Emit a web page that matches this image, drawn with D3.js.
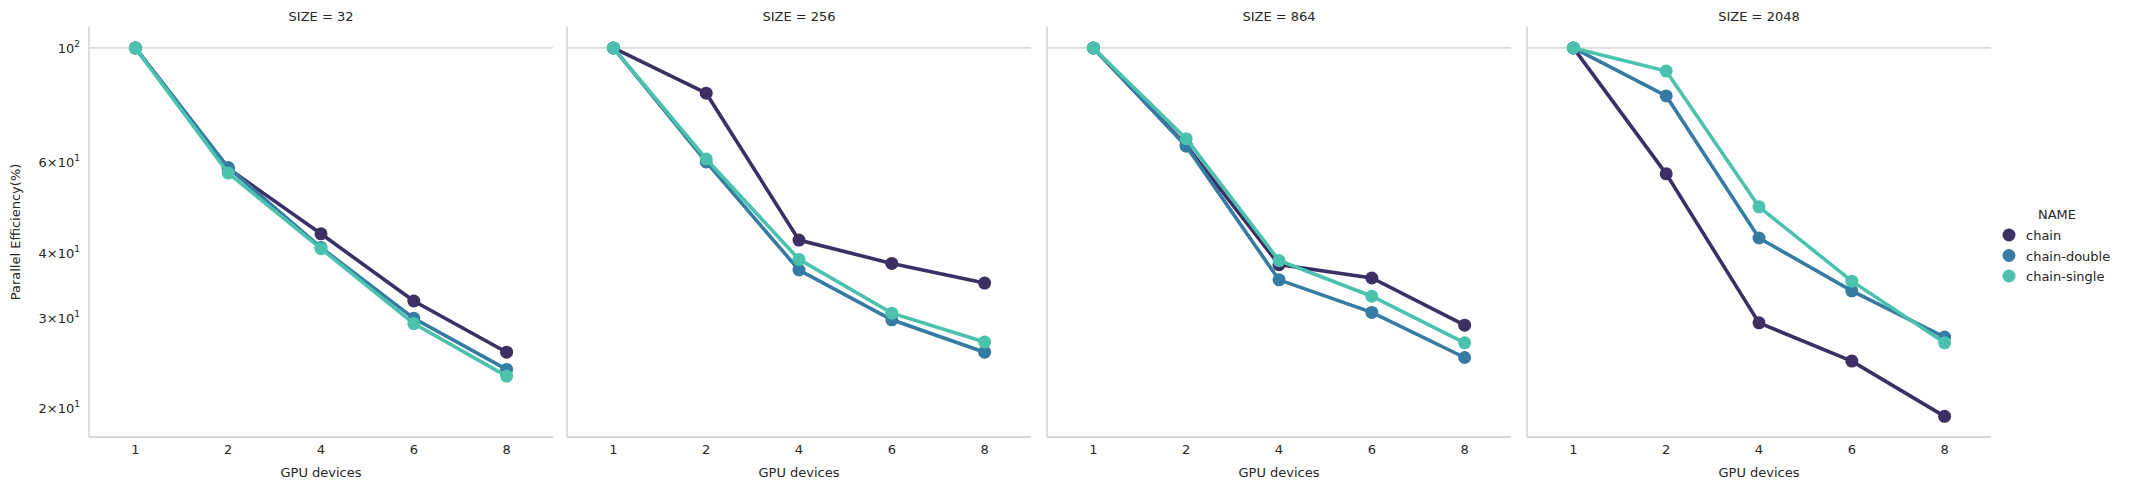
<!DOCTYPE html>
<html><head><meta charset="utf-8">
<script src="https://cdn.jsdelivr.net/npm/d3@7"></script>
<style>body{margin:0;background:#fff}text{font-family:"DejaVu Sans",sans-serif;fill:#262626}</style>
</head><body><svg id="chart" width="2155" height="489"></svg>
<script>
var sizes = ["32", "256", "864", "2048"];
var devices = ["1", "2", "4", "6", "8"];
var names = ["chain", "chain-double", "chain-single"];
var colors = ["#3b2f63", "#357ba3", "#4bc2ad"];
// efficiency per size, per name, per device
var chain = [[100, 58.4, 43.6, 32.3, 25.7], [100, 81.7, 42.4, 38.2, 35.0], [100, 64.8, 38.0, 35.8, 29.0], [100, 57.0, 29.3, 24.7, 19.3]];
var chainDouble = [[100, 58.6, 41.0, 29.9, 23.8], [100, 60.1, 37.1, 29.7, 25.7], [100, 64.5, 35.5, 30.7, 25.1], [100, 80.7, 42.8, 33.8, 27.5]];
var chainSingle = [[100, 57.2, 40.8, 29.2, 23.1], [100, 60.9, 38.9, 30.6, 26.9], [100, 66.7, 38.7, 33.0, 26.8], [100, 90.2, 49.2, 35.3, 26.8]];
var yTicks = [20, 30, 40, 60, 100];
var series = [chain, chainDouble, chainSingle];

var svg = d3.select("#chart");
var panelLeft = [89, 567, 1047, 1527], panelW = 464, plotTop = 27, plotBottom = 437;
var y = d3.scaleLog().domain([17.6, 109.8]).range([plotBottom, plotTop]);

function tickLabel(sel, v) {
    if (v === 100) {
        sel.append("tspan").text("10");
        sel.append("tspan").attr("dy", -6).attr("font-size", 9).text("2");
    } else {
        sel.append("tspan").text((v / 10) + "\u00d710");
        sel.append("tspan").attr("dy", -6).attr("font-size", 9).text("1");
    }
}

sizes.forEach(function(s, i) {
    var g = svg.append("g").attr("transform", "translate(" + panelLeft[i] + ",0)");
    var x = d3.scalePoint().domain(devices).range([0, panelW]).padding(0.5);
    g.append("line").attr("x1", 0).attr("x2", panelW).attr("y1", y(100)).attr("y2", y(100))
        .attr("stroke", "#cccccc").attr("stroke-width", 1.2);
    g.append("line").attr("x1", 0).attr("x2", 0).attr("y1", plotTop).attr("y2", plotBottom).attr("stroke", "#cccccc").attr("stroke-width", 1.3);
    g.append("line").attr("x1", 0).attr("x2", panelW).attr("y1", plotBottom).attr("y2", plotBottom).attr("stroke", "#cccccc").attr("stroke-width", 1.3);
    g.append("text").attr("x", panelW / 2).attr("y", 21).attr("text-anchor", "middle").attr("font-size", 13).text("SIZE = " + s);
    devices.forEach(function(d) {
        g.append("text").attr("x", x(d)).attr("y", 454).attr("text-anchor", "middle").attr("font-size", 13).text(d);
    });
    g.append("text").attr("x", panelW / 2).attr("y", 477).attr("text-anchor", "middle").attr("font-size", 13).text("GPU devices");
    if (i === 0) {
        yTicks.forEach(function(v) {
            var t = g.append("text").attr("x", -9).attr("y", y(v) + 5).attr("text-anchor", "end").attr("font-size", 13);
            tickLabel(t, v);
        });
    }
    series.forEach(function(ser, k) {
        var vals = ser[i];
        var line = d3.line().x(function(d, j) { return x(devices[j]); }).y(function(d) { return y(d); });
        g.append("path").datum(vals).attr("d", line).attr("fill", "none").attr("stroke", colors[k]).attr("stroke-width", 3.6);
        g.selectAll(null).data(vals).enter().append("circle")
            .attr("cx", function(d, j) { return x(devices[j]); }).attr("cy", function(d) { return y(d); })
            .attr("r", 6.5).attr("fill", colors[k]);
    });
});

svg.append("text").attr("transform", "translate(20," + ((plotTop + plotBottom) / 2) + ") rotate(-90)")
    .attr("text-anchor", "middle").attr("font-size", 13).text("Parallel Efficiency(%)");

var lg = svg.append("g");
lg.append("text").attr("x", 2057).attr("y", 219).attr("text-anchor", "middle").attr("font-size", 13).text("NAME");
names.forEach(function(n, k) {
    var yy = 235 + k * 20.5;
    lg.append("circle").attr("cx", 2009).attr("cy", yy).attr("r", 6.5).attr("fill", colors[k]);
    lg.append("text").attr("x", 2026).attr("y", yy + 5).attr("font-size", 13).text(n);
});
</script></body></html>
